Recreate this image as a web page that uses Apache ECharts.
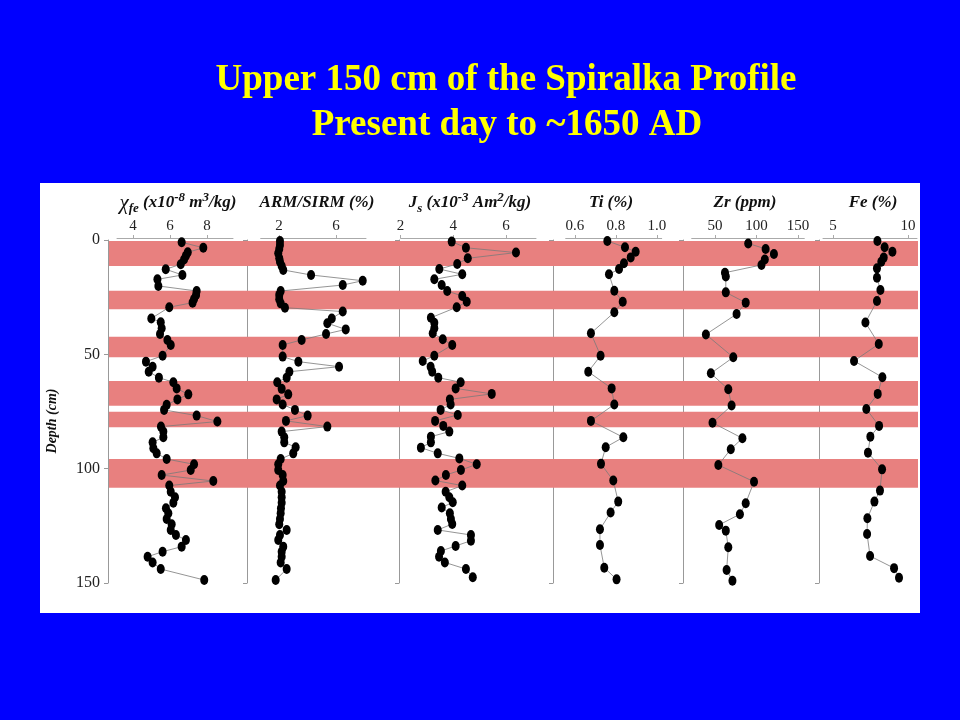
<!DOCTYPE html>
<html><head><meta charset="utf-8">
<script src="https://cdn.jsdelivr.net/npm/echarts@6/dist/echarts.min.js"></script>
<style>html,body{margin:0;padding:0;background:#0000ff}#c{width:960px;height:720px}</style>
</head><body><div id="c"></div>
<script>
// ---- data ----
const chiDepth = [1.0,3.4,5.4,6.9,8.5,10.6,12.8,15.3,17.2,20.1,22.3,24.0,25.8,27.4,29.4,34.3,36.0,38.6,41.1,43.7,45.9,50.6,53.2,55.4,57.6,60.2,62.2,64.9,67.5,69.7,72.1,74.3,76.8,79.4,81.6,83.8,86.3,88.5,91.1,93.3,95.8,98.1,100.6,102.8,105.4,107.4,110.1,112.5,114.9,117.3,119.5,122.0,124.3,126.8,129.0,131.2,134.1,136.3,138.5,141.0,143.9,148.7];
const chiValues = [6.63,7.80,6.96,6.86,6.76,6.58,5.77,6.67,5.32,5.37,7.44,7.41,7.30,7.22,5.96,4.99,5.50,5.55,5.46,5.86,6.04,5.60,4.70,5.06,4.85,5.40,6.18,6.36,6.99,6.40,5.82,5.68,7.44,8.56,5.51,5.64,5.64,5.06,5.10,5.28,5.82,7.30,7.12,5.55,8.34,5.96,6.04,6.27,6.18,5.78,5.91,5.82,6.09,6.04,6.32,6.86,6.63,5.60,4.79,5.06,5.50,7.85];

const armDepth = [0.4,2.2,3.9,5.8,8.0,9.5,11.4,13.1,15.3,17.8,19.7,22.3,24.0,25.9,27.7,29.6,31.3,34.3,36.4,39.1,41.1,43.7,45.9,51.0,53.2,55.4,57.6,60.2,62.2,65.1,67.5,69.7,71.9,74.3,76.8,79.1,81.6,83.8,86.3,88.5,90.6,93.3,95.8,98.1,100.6,102.8,105.4,107.4,110.1,112.5,114.9,117.3,119.5,122.0,124.3,126.8,129.0,131.2,134.1,136.3,138.5,141.0,143.9,148.7];
const armValues = [2.07,2.07,2.02,1.95,2.02,2.07,2.19,2.30,4.25,7.87,6.47,2.12,2.02,2.02,2.12,2.42,6.47,5.70,5.39,6.68,5.30,3.59,2.26,2.26,3.36,6.21,2.73,2.54,1.88,2.19,2.65,1.84,2.26,3.12,4.01,2.49,5.39,2.19,2.37,2.37,3.17,3.00,2.12,1.95,1.95,2.26,2.30,2.07,2.19,2.19,2.19,2.14,2.12,2.07,2.02,2.54,2.07,1.95,2.30,2.19,2.19,2.12,2.54,1.77];

const jsDepth = [0.7,3.4,5.5,8.0,10.5,12.7,15.0,17.2,19.7,22.3,24.5,27.0,29.4,34.0,36.2,38.6,40.8,43.4,45.9,50.6,52.9,55.4,57.6,60.2,62.2,64.9,67.3,69.7,71.9,74.3,76.5,79.1,81.3,83.8,86.0,88.5,90.8,93.3,95.5,98.1,100.6,102.8,105.2,107.4,110.1,112.5,114.7,117.0,119.5,122.0,124.2,126.8,129.0,131.5,133.8,136.0,138.5,141.0,143.9,147.5];
const jsValues = [3.94,4.48,6.38,4.55,4.15,3.47,4.34,3.28,3.56,3.77,4.34,4.51,4.13,3.15,3.28,3.28,3.22,3.60,3.96,3.28,2.84,3.14,3.20,3.43,4.28,4.09,5.46,3.87,3.90,3.52,4.17,3.31,3.62,3.85,3.15,3.15,2.77,3.41,4.23,4.89,4.29,3.72,3.32,4.34,3.71,3.85,3.98,3.56,3.87,3.91,3.96,3.41,4.67,4.67,4.09,3.53,3.46,3.68,4.48,4.74];

const tiDepth = [0.4,3.2,5.1,7.6,10.2,12.7,15.0,22.2,27.0,31.6,40.8,50.6,57.6,64.9,71.9,79.1,86.3,90.6,97.9,105.2,114.4,119.2,126.5,133.4,143.3,148.4];
const tiValues = [0.758,0.844,0.896,0.872,0.839,0.815,0.766,0.792,0.833,0.792,0.678,0.725,0.665,0.779,0.792,0.678,0.836,0.750,0.727,0.787,0.811,0.774,0.722,0.722,0.743,0.803];

const zrDepth = [1.5,3.9,6.1,8.5,10.9,14.3,16.0,22.9,27.4,32.4,41.3,51.3,58.3,65.3,72.4,79.9,86.7,91.5,98.4,105.7,115.1,119.9,124.6,127.1,134.4,144.3,149.0];
const zrValues = [90,111,121,110,106,62,63,63,87,76,39,72,45,66,70,47,83,69,54,97,87,80,55,63,66,64,71];

const feDepth = [0.4,3.2,5.1,7.7,9.5,12.4,16.5,21.9,26.7,36.1,45.5,52.9,60.0,67.3,73.9,81.3,86.0,93.0,100.3,109.6,114.4,121.7,128.6,138.2,143.5,147.7];
const feValues = [7.96,8.44,8.96,8.38,8.22,7.93,7.93,8.16,7.93,7.16,8.05,6.40,8.29,7.98,7.22,8.07,7.49,7.33,8.27,8.13,7.76,7.29,7.27,7.47,9.07,9.40];

// highlighted depth intervals (cm)
const bandStart = [0.4,22.2,42.3,61.7,75.1,95.8];
const bandEnd   = [11.4,30.3,51.3,72.5,81.9,108.4];

// tick labels
const chiTicks = [4,6,8];
const armTicks = [2,6];
const jsTicks = [2,4,6];
const tiTicks = [0.6,0.8,1.0];
const zrTicks = [50,100,150];
const feTicks = [5,10];
const depthTicks = [0,50,100,150];

const mainTitle = ['Upper 150 cm of the Spiralka Profile','Present day to ~1650 AD'];
const panelTitles = [
  '{chi|χ}{sub|fe}{b| (x10}{sup|-8}{b| m}{sup|3}{b|/kg)}',
  '{b|ARM/SIRM (%)}',
  '{b|J}{sub|s}{b| (x10}{sup|-3}{b| Am}{sup|2}{b|/kg)}',
  '{b|Ti (%)}',
  '{b|Zr (ppm)}',
  '{b|Fe (%)}'
];

// ---- layout ----
const SERIF = 'Liberation Serif';
const panels = [
  {l:117,   r:233,   ax:108, min:3.135, max:9.405, ticks:chiTicks, dec:0, d:chiDepth, v:chiValues, tx:178},
  {l:260.7, r:366,   ax:247, min:0.72,  max:8.1,   ticks:armTicks, dec:0, d:armDepth, v:armValues, tx:317},
  {l:400.6, r:536,   ax:399, min:2,     max:7.14,  ticks:jsTicks,  dec:0, d:jsDepth,  v:jsValues,  tx:470},
  {l:565.7, r:661.7, ax:553, min:0.555, max:1.023, ticks:tiTicks,  dec:1, d:tiDepth,  v:tiValues,  tx:611},
  {l:691.7, r:804.3, ax:683, min:21.9,  max:157.6, ticks:zrTicks,  dec:0, d:zrDepth,  v:zrValues,  tx:745},
  {l:823,   r:917,   ax:819, min:4.33,  max:10.6,  ticks:feTicks,  dec:0, d:feDepth,  v:feValues,  tx:873}
];
const TOP = 240, H = 343;

const grids = [], xAxes = [], yAxes = [], series = [], titles = [];
panels.forEach((p, i) => {
  grids.push({left:p.l, width:p.r - p.l, top:TOP, height:H});
  xAxes.push({
    gridIndex:i, type:'value', position:'top', min:p.min, max:p.max, offset:2,
    axisLine:{show:true, onZero:false, lineStyle:{color:'#aaaaaa', width:1}},
    axisTick:{show:true, inside:false, length:3, customValues:p.ticks, lineStyle:{color:'#aaaaaa'}},
    axisLabel:{show:true, customValues:p.ticks, margin:4, fontFamily:SERIF, fontSize:15, color:'#222',
      formatter: v => Number(v).toFixed(p.dec)},
    splitLine:{show:false}
  });
  yAxes.push({
    gridIndex:i, type:'value', inverse:true, min:0, max:150, interval:50, position:'left',
    offset: p.l - p.ax,
    axisLine:{show:true, onZero:false, lineStyle:{color:'#999999', width:1}},
    axisTick:{show:true, inside:false, length:4, lineStyle:{color:'#999999'}},
    axisLabel:{show:i === 0, margin:8, fontFamily:SERIF, fontSize:16, color:'#222'},
    splitLine:{show:false}
  });
  series.push({
    type:'line', xAxisIndex:i, yAxisIndex:i, z:3, clip:false, animation:false,
    data: p.v.map((val, k) => [val, p.d[k]]),
    symbol:'circle', symbolSize:[8,10], showSymbol:true,
    itemStyle:{color:'#000'},
    lineStyle:{color:'#7a7a7a', width:0.8}
  });
  titles.push({
    text: panelTitles[i], left:p.tx, top:191, textAlign:'center', padding:0,
    textStyle:{
      lineHeight:24,
      rich:{
        b:{fontFamily:SERIF, fontStyle:'italic', fontWeight:'bold', fontSize:17, color:'#111', lineHeight:24},
        chi:{fontFamily:SERIF, fontStyle:'italic', fontWeight:'normal', fontSize:21, color:'#111', lineHeight:24},
        sub:{fontFamily:SERIF, fontStyle:'italic', fontWeight:'bold', fontSize:13, color:'#111', lineHeight:13, verticalAlign:'bottom'},
        sup:{fontFamily:SERIF, fontStyle:'italic', fontWeight:'bold', fontSize:13, color:'#111', lineHeight:13, verticalAlign:'top'}
      }
    }
  });
});

// band grid (index 6)
grids.push({left:109, width:918 - 109, top:TOP, height:H});
xAxes.push({gridIndex:6, type:'value', min:0, max:1, show:false});
yAxes.push({gridIndex:6, type:'value', inverse:true, min:0, max:150, show:false});
series.push({
  type:'custom', xAxisIndex:6, yAxisIndex:6, z:1, silent:true, clip:false, animation:false,
  data: bandStart.map((s, k) => [s, bandEnd[k]]),
  encode:{x:-1, y:[0,1]},
  renderItem:(params, api) => {
    const a = api.coord([0, api.value(0)]);
    const b = api.coord([1, api.value(1)]);
    return {type:'rect', shape:{x:a[0], y:a[1], width:b[0]-a[0], height:b[1]-a[1]},
      style:{fill:'#e8807f'}};
  }
});

// white panel background grid (index 7)
grids.push({left:40, top:183, width:880, height:430, show:true, backgroundColor:'#ffffff', borderWidth:0});
xAxes.push({gridIndex:7, type:'value', min:0, max:1, show:false});
yAxes.push({gridIndex:7, type:'value', min:0, max:1, show:false});

// main titles
const mtStyle = {fontFamily:SERIF, fontWeight:'bold', fontSize:37, color:'#ffff00',
  textShadowColor:'#1a0000', textShadowOffsetX:2, textShadowOffsetY:2, textShadowBlur:0};
titles.push({text:mainTitle[0], left:506, top:62, textAlign:'center', padding:0, textStyle:mtStyle});
titles.push({text:mainTitle[1], left:507, top:107, textAlign:'center', padding:0, textStyle:mtStyle});

const chart = echarts.init(document.getElementById('c'), null, {renderer:'canvas'});
chart.setOption({
  backgroundColor:'#0000ff',
  animation:false,
  title: titles,
  grid: grids,
  xAxis: xAxes,
  yAxis: yAxes,
  series: series,
  graphic:[{
    type:'text', x:52, y:421, rotation:Math.PI/2, z:10,
    style:{text:'Depth (cm)', fill:'#111', font:'italic bold 14px "Liberation Serif"', align:'center', verticalAlign:'middle'}
  }]
});
</script>
</body></html>
